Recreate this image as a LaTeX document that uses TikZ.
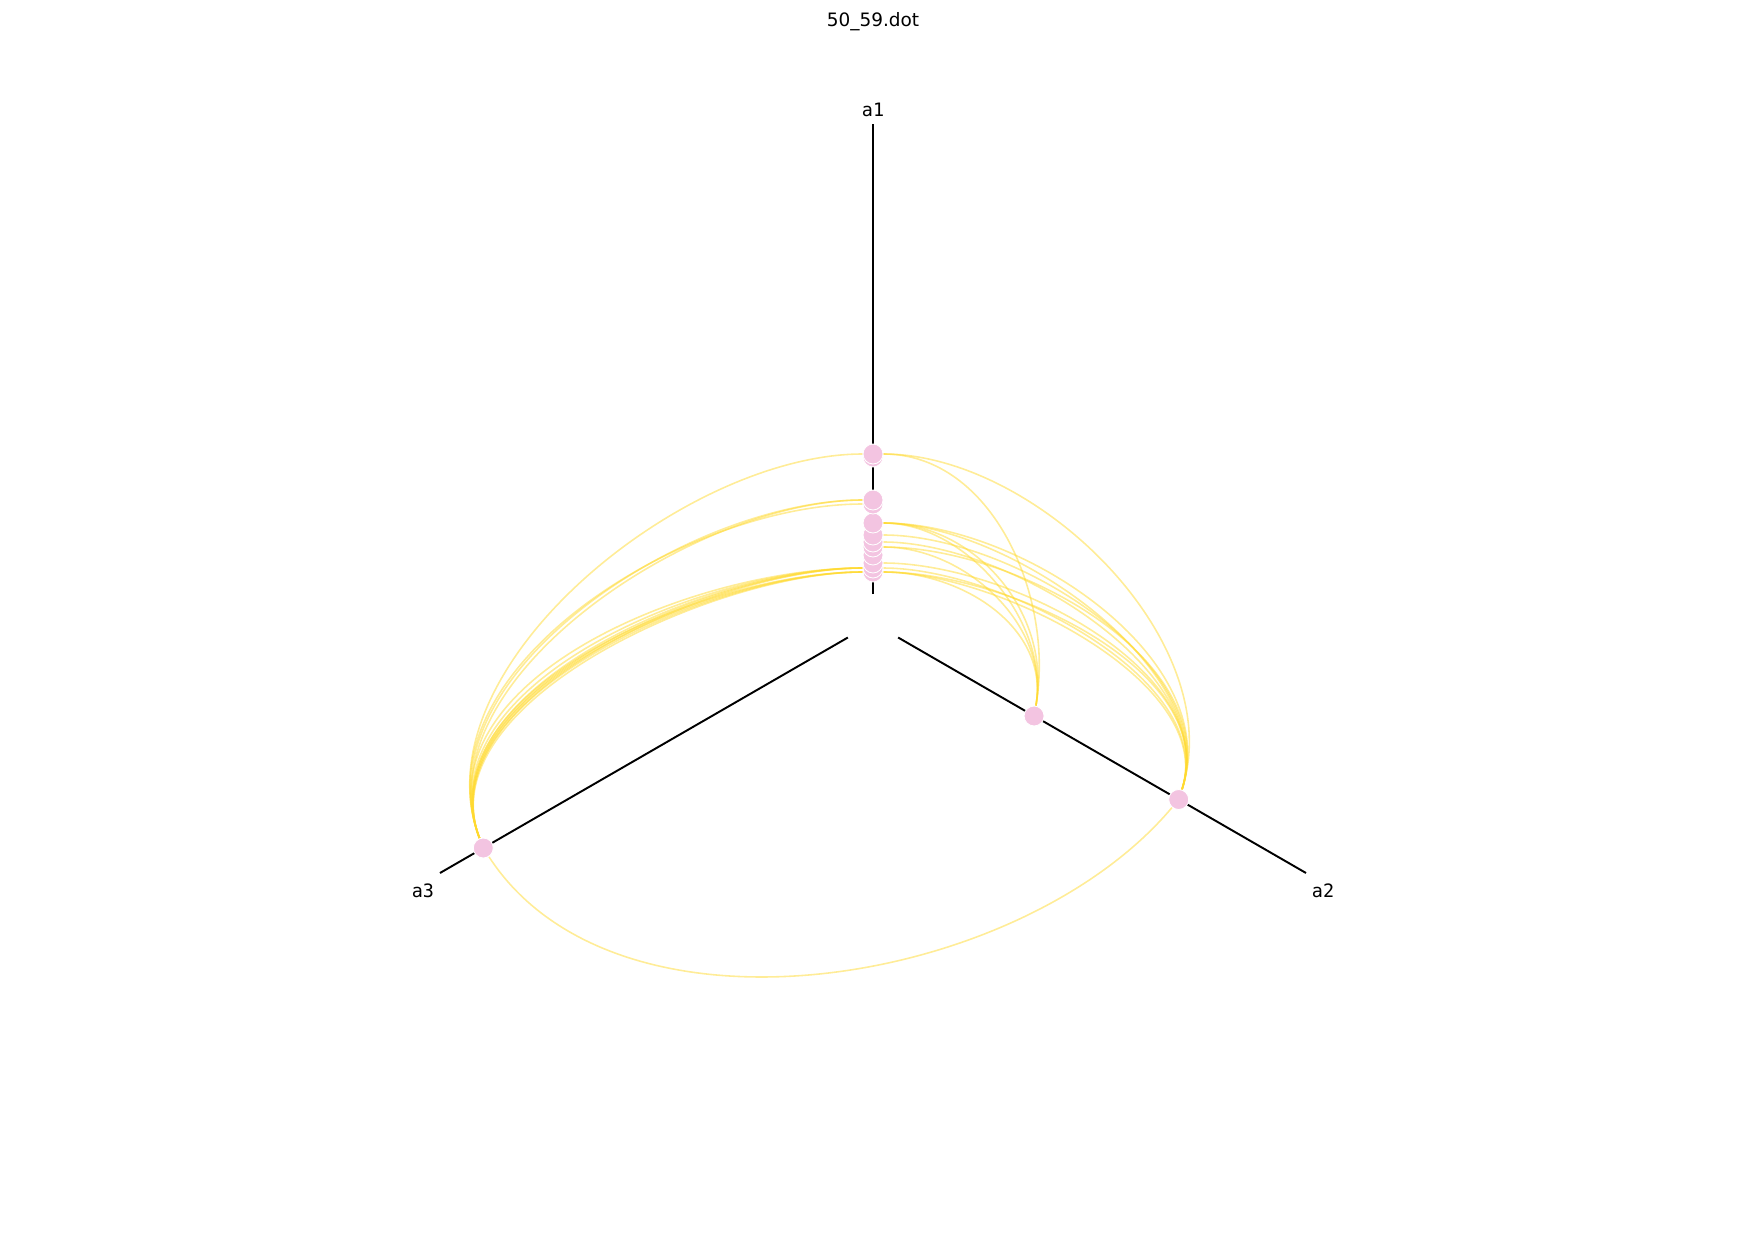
\documentclass[tikz,border=0pt]{standalone}
\usepackage{fontspec}
\setmainfont{DejaVu Sans}
\newfontfamily\labelfont{DejaVu Sans Mono}
\usetikzlibrary{backgrounds}

\definecolor{nodepink}{RGB}{243,196,225}
\definecolor{edgeyellow}{RGB}{255,217,47}

\begin{document}
\begin{tikzpicture}[
    x=0.02cm, y=0.02cm,
    hnode/.style={circle, fill=nodepink, draw=white, line width=0.5pt, minimum size=0.4cm, inner sep=0pt},
    axisline/.style={line width=1.1pt, black},
    link/.style={edgeyellow, opacity=0.5, line width=0.9pt},
    axislabel/.style={font=\labelfont\fontsize{10.5}{12}\selectfont},
    title/.style={font=\fontsize{10.5}{12}\selectfont}
]
\useasboundingbox (-873,-625) rectangle (873,623);

% === TITLE ===
\node[title] (ttl) at (0,601) {50\_59.dot};

% === AXES ===
\coordinate (a1in) at (90:29);   \coordinate (a1out) at (90:499);
\coordinate (a2in) at (330:29);  \coordinate (a2out) at (330:500);
\coordinate (a3in) at (210:29);  \coordinate (a3out) at (210:500);

\node[axislabel] (la1) at (0,513) {a1};
\node[axislabel] (la2) at (450,-268) {a2};
\node[axislabel] (la3) at (-450,-268) {a3};

% === NODES ===
% a1 stack, drawn from the centre outwards
\foreach \r [count=\i] in {51,55,60,68,76,81,88,100,119,123,166,169}
    \node[hnode] (u\i) at (90:\r) {};
\node[hnode] (v1) at (330:186) {};
\node[hnode] (v2) at (330:353) {};
\node[hnode] (w1) at (210:450) {};

\begin{scope}[on background layer]
    \draw[axisline] (a1in) -- (a1out);
    \draw[axisline] (a2in) -- (a2out);
    \draw[axisline] (a3in) -- (a3out);

    % a1 -> a3
    \foreach \s/\l in {u12/0.85, u10/0.84, u10/0.87, u9/0.9,
                       u1/0.8, u1/0.82, u1/0.84, u1/0.86,
                       u2/0.81, u2/0.83, u2/0.85, u2/0.88, u2/0.92}
        \draw[link] (\s) to[out=180, in=111, looseness=\l] (w1);

    % a1 -> a2 (inner node)
    \foreach \s/\l in {u12/0.95, u8/0.9, u8/1.0, u5/0.95, u1/1.0}
        \draw[link] (\s) to[out=0, in=80, looseness=\l] (v1);

    % a1 -> a2 (outer node)
    \foreach \s/\l in {u12/0.88, u8/0.8, u8/0.88, u7/0.85, u6/0.82,
                       u5/0.9, u3/0.85, u2/0.8, u1/0.78, u1/0.86}
        \draw[link] (\s) to[out=0, in=72, looseness=\l] (v2);

    % a3 -> a2
    \draw[link] (w1) to[out=-57, in=230, looseness=0.88] (v2);
\end{scope}

\end{tikzpicture}
\end{document}
